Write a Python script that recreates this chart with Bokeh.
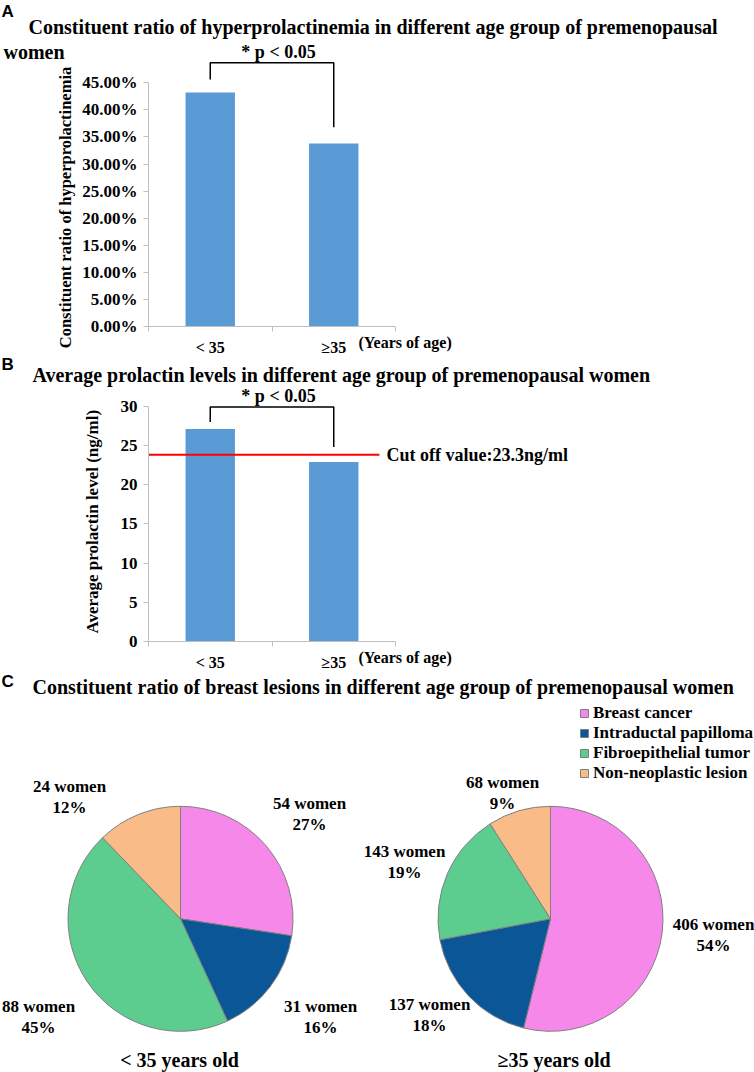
import math
from bokeh.plotting import figure
from bokeh.layouts import column
from bokeh.models import (Range1d, FixedTicker, Label, NumeralTickFormatter,
                          ColumnDataSource, Legend, LegendItem)
from bokeh.embed import file_html
from bokeh.resources import INLINE

# ---------------- data ----------------
age_groups = ["< 35", "≥35"]
age_suffix = "(Years of age)"

hyperprl_ratio = [0.432, 0.338]
ratio_ticks = [0, 0.05, 0.10, 0.15, 0.20, 0.25, 0.30, 0.35, 0.40, 0.45]

prolactin_mean = [27.1, 22.9]
prolactin_ticks = [0, 5, 10, 15, 20, 25, 30]
cutoff_drawn = 23.8
cutoff_text = "Cut off value:23.3ng/ml"

sig_text = "* p < 0.05"

lesion_types = ["Breast cancer", "Intraductal papilloma",
                "Fibroepithelial tumor", "Non-neoplastic lesion"]
lesion_colors = ["#F588E8", "#0B5697", "#5CCD8F", "#F9BC88"]
young_counts = [54, 31, 88, 24]
young_pcts = ["27%", "16%", "45%", "12%"]
older_counts = [406, 137, 143, 68]
older_pcts = ["54%", "18%", "19%", "9%"]
pie_titles = ["< 35 years old", "≥35  years old"]

title_a1 = "Constituent ratio of hyperprolactinemia in different age group of premenopausal"
title_a2 = "women"
ylabel_a = "Constituent ratio of hyperprolactinemia"
title_b = "Average prolactin levels in different age group of premenopausal women"
ylabel_b = "Average prolactin level   (ng/ml)"
title_c = "Constituent ratio of breast lesions in different age group of premenopausal women"

# ---------------- styling / layout ----------------
SERIF = "Liberation Serif"
SANS = "Liberation Sans"
W = 754
AXIS_X = 148          # page x of the y axis
XPX = 123.5           # px per category
BAR_BLUE = "#5B9BD5"
AXIS_GREY = "#BFBFBF"
TITLE_SIZE = "20px"


def bar_panel(top, height, frame_bottom_page, ypx, ticks, formatter):
    # frame covers the whole figure; axes are pinned at data 0
    p = figure(width=W, height=height, title=None,
               x_range=Range1d((0 - AXIS_X) / XPX, (W - AXIS_X) / XPX),
               y_range=Range1d((frame_bottom_page - (top + height)) / ypx,
                               (frame_bottom_page - top) / ypx),
               output_backend="svg", toolbar_location=None, min_border=0)
    p.grid.visible = False
    p.outline_line_color = None
    p.background_fill_color = "white"
    p.border_fill_color = "white"

    ya = p.yaxis[0]
    ya.fixed_location = 0
    ya.ticker = FixedTicker(ticks=ticks, minor_ticks=[])
    if formatter is not None:
        ya.formatter = formatter
    ya.bounds = (ticks[0], ticks[-1])
    ya.major_tick_out = 5
    ya.major_tick_in = 0
    ya.minor_tick_out = 0
    ya.axis_line_color = AXIS_GREY
    ya.major_tick_line_color = AXIS_GREY
    ya.major_label_text_font = SERIF
    ya.major_label_text_font_style = "bold"
    ya.major_label_text_font_size = "17px"
    ya.major_label_text_color = "black"
    ya.major_label_standoff = 6

    xa = p.xaxis[0]
    xa.fixed_location = 0
    n = len(age_groups)
    centers = [i + 0.5 for i in range(n)]
    xa.ticker = FixedTicker(ticks=centers, minor_ticks=list(range(n + 1)))
    xa.major_label_overrides = {c: g for c, g in zip(centers, age_groups)}
    xa.bounds = (0, n)
    xa.major_tick_out = 0
    xa.major_tick_in = 0
    xa.minor_tick_out = 5
    xa.minor_tick_in = 0
    xa.axis_line_color = AXIS_GREY
    xa.minor_tick_line_color = AXIS_GREY
    xa.major_label_text_font = SERIF
    xa.major_label_text_font_style = "bold"
    xa.major_label_text_font_size = "16px"
    xa.major_label_text_color = "black"
    xa.major_label_standoff = 7

    def lab(px, py, text, size=TITLE_SIZE, align="left", font=SERIF, angle=0.0):
        p.add_layout(Label(x=(px - AXIS_X) / XPX, y=(frame_bottom_page - py) / ypx,
                           text=text, text_font=font, text_font_style="bold",
                           text_font_size=size, text_align=align,
                           text_baseline="middle", angle=angle, text_color="black"))
    return p, centers, lab


def bracket(p, centers, vals, left_gap, right_gap, top):
    xs = [centers[0], centers[0], centers[1], centers[1]]
    ys = [vals[0] + left_gap, top, top, vals[1] + right_gap]
    p.line(xs, ys, line_color="black", line_width=1.5)


# ---------------- Panel A ----------------
A_TOP, A_H = 0, 354
A_FB = 326.0
A_YPX = (A_FB - 82.3) / 0.45
pA, cA, labA = bar_panel(A_TOP, A_H, A_FB, A_YPX, ratio_ticks,
                         NumeralTickFormatter(format="0.00%"))
pA.vbar(x=cA, top=hyperprl_ratio, width=0.4, fill_color=BAR_BLUE, line_color=None)
bracket(pA, cA, hyperprl_ratio, 0.024, 0.030, 0.487)
labA(1, 11, "A", size="17px", font=SANS)
labA(28, 26, title_a1)
labA(3, 51, title_a2)
labA(278, 51, sig_text, align="center", size="18px")
labA(65, 207, ylabel_a, size="16.5px", align="center", angle=math.pi / 2)
labA(358, 342, age_suffix, size="16px")

# ---------------- Panel B ----------------
B_TOP, B_H = A_TOP + A_H, 316
B_FB = 641.0
B_YPX = (B_FB - 405.7) / 30.0
pB, cB, labB = bar_panel(B_TOP, B_H, B_FB, B_YPX, prolactin_ticks, None)
pB.vbar(x=cB, top=prolactin_mean, width=0.4, fill_color=BAR_BLUE, line_color=None)
pB.segment(x0=[0], y0=[cutoff_drawn], x1=[1.87], y1=[cutoff_drawn],
           line_color="#FF0000", line_width=2)
bracket(pB, cB, prolactin_mean, 0.9, 1.9, 29.9)
labB(1, 364, "B", size="17px", font=SANS)
labB(32, 374, title_b)
labB(278, 395, sig_text, align="center", size="18px")
labB(386, 454, cutoff_text, size="18px")
labB(92, 517, ylabel_b, size="17px", align="center", angle=math.pi / 2)
labB(358, 657, age_suffix, size="16px")

# ---------------- Panel C ----------------
C_TOP = B_TOP + B_H
C_H = 1072 - C_TOP
R = 112.5
PIE_L = (180.0, 918.3)
PIE_R_X = 550.0
pC = figure(width=W, height=C_H, title=None,
            x_range=Range1d((0 - PIE_L[0]) / R, (W - PIE_L[0]) / R),
            y_range=Range1d((PIE_L[1] - (C_TOP + C_H)) / R, (PIE_L[1] - C_TOP) / R),
            output_backend="svg", toolbar_location=None,
            x_axis_location=None, y_axis_location=None, min_border=0)
pC.grid.visible = False
pC.outline_line_color = None


def pie(counts, cx):
    total = float(sum(counts))
    starts, ends = [], []
    cum = 0.0
    for c in counts:
        starts.append(math.pi / 2 - 2 * math.pi * cum / total)
        cum += c
        ends.append(math.pi / 2 - 2 * math.pi * cum / total)
    src = ColumnDataSource(dict(start=starts, end=ends, color=lesion_colors))
    return pC.wedge(x=cx, y=0, radius=1, start_angle="start", end_angle="end",
                    direction="clock", fill_color="color", line_color="#7F7F7F",
                    line_width=1, source=src)


rL = pie(young_counts, 0)
rR = pie(older_counts, (PIE_R_X - PIE_L[0]) / R)


def labC(px, py, text, size="17px", align="center", font=SERIF):
    pC.add_layout(Label(x=(px - PIE_L[0]) / R, y=(PIE_L[1] - py) / R, text=text,
                        text_font=font, text_font_style="bold", text_font_size=size,
                        text_align=align, text_baseline="middle", text_color="black"))


labC(1, 681, "C", size="17px", align="left", font=SANS)
labC(32, 686, title_c, size=TITLE_SIZE, align="left")

# pie labels (two lines each)
young_pos = [(309, 803), (320, 1006), (38, 1006), (69, 786)]
older_pos = [(713, 924), (429, 1004), (404, 851), (502, 782)]
for (x, y), n, pc in zip(young_pos, young_counts, young_pcts):
    labC(x, y, f"{n} women")
    labC(x, y + 20.5, pc)
for (x, y), n, pc in zip(older_pos, older_counts, older_pcts):
    labC(x, y, f"{n} women")
    labC(x, y + 20.5, pc)

labC(179, 1059, pie_titles[0], size="20px")
labC(556, 1059, pie_titles[1], size="20px")

legend = Legend(items=[LegendItem(label=t, renderers=[rL], index=i)
                       for i, t in enumerate(lesion_types)],
                location=(579, C_TOP + C_H - 783), orientation="vertical",
                glyph_width=10, glyph_height=10, label_height=20, spacing=0,
                padding=0, margin=0, label_standoff=4,
                label_text_font=SERIF, label_text_font_style="bold",
                label_text_color="black",
                label_text_font_size="17px", border_line_color=None,
                background_fill_alpha=0)
pC.add_layout(legend)

page = column(pA, pB, pC, spacing=0)
open("out.html", "w").write(file_html(page, INLINE))
